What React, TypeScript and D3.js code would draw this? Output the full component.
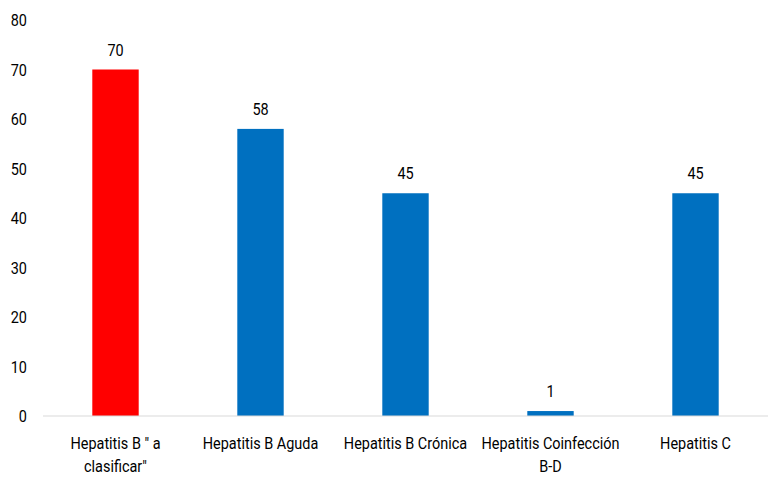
import * as React from "react";
import * as d3 from "d3";

const categories = [
  ["Hepatitis B \" a", "clasificar\""],
  ["Hepatitis B Aguda"],
  ["Hepatitis B Crónica"],
  ["Hepatitis Coinfección", "B-D"],
  ["Hepatitis C"],
];
const values = [70, 58, 45, 1, 45];
const barColors = ["#FF0000", "#0070C0", "#0070C0", "#0070C0", "#0070C0"];
const yTicks = [0, 10, 20, 30, 40, 50, 60, 70, 80];

const font = "Roboto, sans-serif";
const squeeze = 0.85; // the original font is narrow, so text is pressed together a little

function Label(props: { x: number; y: number; anchor: "start" | "middle" | "end"; lines: string[] }) {
  const { x, y, anchor, lines } = props;
  return (
    <g transform={`translate(${x},${y}) scale(${squeeze},1)`}>
      <text textAnchor={anchor} fontSize={17} fill="#000">
        {lines.map((l, j) => (
          <tspan key={j} x={0} dy={j === 0 ? 0 : 23}>
            {l}
          </tspan>
        ))}
      </text>
    </g>
  );
}

export default function App() {
  const width = 779;
  const height = 479;
  const margin = { top: 20, right: 11, bottom: 63, left: 43 };

  const x = d3.scaleBand<number>()
    .domain(d3.range(categories.length))
    .range([margin.left, width - margin.right])
    .paddingInner(0.68)
    .paddingOuter(0.34);
  const y = d3.scaleLinear()
    .domain([0, 80])
    .range([height - margin.bottom, margin.top]);

  return (
    <svg width={width} height={height} style={{ position: "absolute", top: 0, left: 0, fontFamily: font }}>
      <rect width={width} height={height} fill="#fff" />
      {yTicks.map((t) => (
        <Label key={t} x={27} y={y(t) + 6} anchor="end" lines={[String(t)]} />
      ))}
      {values.map((v, i) => (
        <g key={i}>
          <rect
            x={x(i)!}
            y={y(v)}
            width={x.bandwidth()}
            height={y(0) - y(v)}
            fill={barColors[i]}
          />
          <Label x={x(i)! + x.bandwidth() / 2} y={y(v) - 14} anchor="middle" lines={[String(v)]} />
        </g>
      ))}
      <line
        x1={margin.left}
        x2={width - margin.right}
        y1={y(0)}
        y2={y(0)}
        stroke="#D9D9D9"
        strokeWidth={1}
      />
      {categories.map((lines, i) => (
        <Label key={i} x={x(i)! + x.bandwidth() / 2} y={449} anchor="middle" lines={lines} />
      ))}
    </svg>
  );
}
